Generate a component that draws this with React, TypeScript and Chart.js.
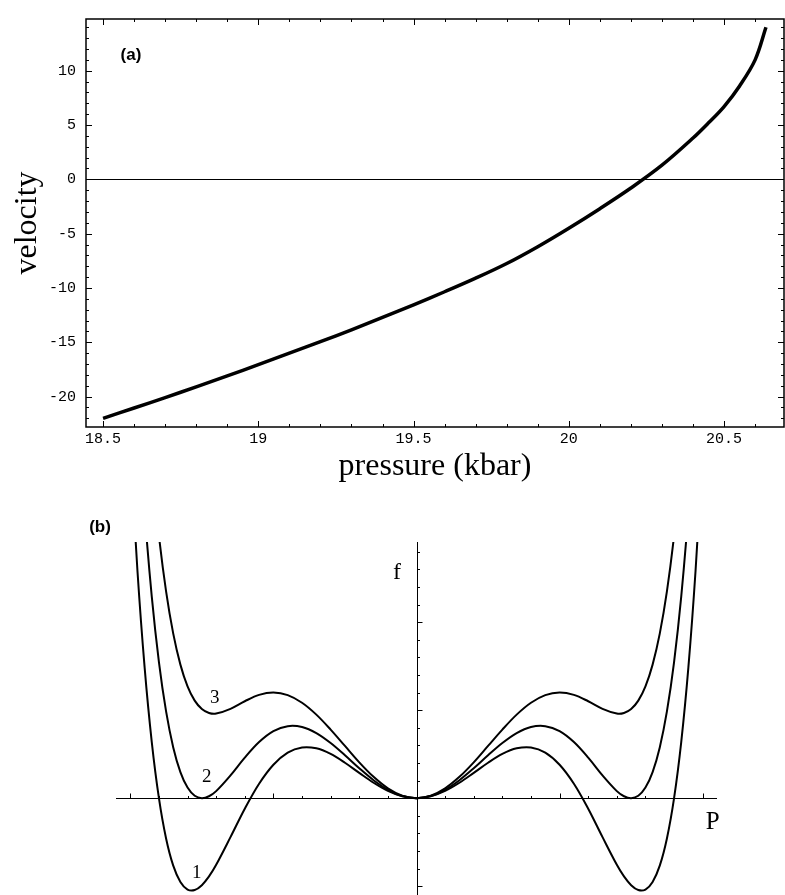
import React, { useEffect, useRef } from "react";
import { Chart, registerables } from "chart.js";

Chart.register(...registerables);

// ---------- Panel (a): velocity vs pressure ----------
const pressure = [
  18.5, 18.6, 18.7, 18.8, 18.9, 19.0, 19.1, 19.2, 19.3, 19.4, 19.5, 19.6,
  19.7, 19.8, 19.9, 20.0, 20.1, 20.2, 20.3, 20.4, 20.45, 20.5, 20.55, 20.6,
  20.635,
];
const velocity = [
  -22.0, -21.05, -20.1, -19.1, -18.1, -17.05, -16.0, -14.95, -13.85, -12.7,
  -11.55, -10.35, -9.1, -7.75, -6.2, -4.5, -2.7, -0.8, 1.3, 3.8, 5.2, 6.7,
  8.6, 11.0, 14.0,
];
const pressureTicks = [18.5, 19, 19.5, 20, 20.5];
const velocityTicks = [-20, -15, -10, -5, 0, 5, 10];

// ---------- Panel (b): free energy f(P), three curves ----------
const orderParam = [
  0, 0.1, 0.2, 0.3, 0.4, 0.5, 0.6, 0.7, 0.8, 0.9, 1.0, 1.1, 1.2, 1.3, 1.4,
  1.45, 1.5, 1.55, 1.6, 1.65, 1.7, 1.75, 1.8, 1.85, 1.9, 1.95, 2.0,
];
const energy1 = [
  0, 0.021, 0.082, 0.175, 0.287, 0.402, 0.502, 0.566, 0.576, 0.518, 0.38,
  0.164, -0.12, -0.443, -0.757, -0.889, -0.989, -1.044, -1.038, -0.952,
  -0.767, -0.458, 0, 0.637, 1.485, 2.58, 3.96,
];
const energy2 = [
  0, 0.024, 0.095, 0.204, 0.34, 0.487, 0.626, 0.739, 0.808, 0.818, 0.761,
  0.637, 0.46, 0.258, 0.08, 0.022, 0, 0.027, 0.12, 0.296, 0.576, 0.985, 1.546,
  2.29, 3.25, 4.46, 5.97,
];
const energy3 = [
  0, 0.029, 0.112, 0.242, 0.407, 0.593, 0.779, 0.949, 1.084, 1.171, 1.2,
  1.173, 1.101, 1.015, 0.961, 0.968, 1.013, 1.108, 1.27, 1.517, 1.869, 2.349,
  2.982, 3.8, 4.83, 6.11, 7.68,
];
const curveNames = ["1", "2", "3"];

const mirror = (vals: number[]) => [
  ...orderParam
    .slice(1)
    .map((p, i) => ({ x: -p, y: vals[i + 1] }))
    .reverse(),
  ...orderParam.map((p, i) => ({ x: p, y: vals[i] })),
];

const SERIF = "'Liberation Serif', 'Times New Roman', serif";
const MONO = "'Liberation Mono', 'Courier New', monospace";
const SANS = "'Liberation Sans', Arial, sans-serif";

const frameTicksPlugin = {
  id: "frameTicks",
  beforeDatasetsDraw(chart: any) {
    const { ctx, chartArea: a, scales } = chart;
    const y0 = Math.round(scales.y.getPixelForValue(0)) + 0.5;
    ctx.save();
    ctx.strokeStyle = "#000";
    ctx.lineWidth = 1;
    ctx.beginPath();
    ctx.moveTo(a.left, y0);
    ctx.lineTo(a.right, y0);
    ctx.stroke();
    ctx.restore();
  },
  afterDraw(chart: any) {
    const { ctx, chartArea: a, scales } = chart;
    const x = scales.x;
    const y = scales.y;
    ctx.save();
    ctx.strokeStyle = "#000";
    ctx.lineWidth = 1.5;
    ctx.strokeRect(a.left, a.top, a.right - a.left, a.bottom - a.top);
    ctx.lineWidth = 1;
    ctx.beginPath();
    for (let i = Math.ceil(x.min * 10); i <= Math.floor(x.max * 10); i++) {
      const px = Math.round(x.getPixelForValue(i / 10)) + 0.5;
      const len = i % 5 === 0 ? 6 : 3;
      ctx.moveTo(px, a.bottom);
      ctx.lineTo(px, a.bottom - len);
      ctx.moveTo(px, a.top);
      ctx.lineTo(px, a.top + len);
    }
    for (let i = Math.ceil(y.min); i <= Math.floor(y.max); i++) {
      const py = Math.round(y.getPixelForValue(i)) + 0.5;
      const len = i % 5 === 0 ? 6 : 3;
      ctx.moveTo(a.left, py);
      ctx.lineTo(a.left + len, py);
      ctx.moveTo(a.right, py);
      ctx.lineTo(a.right - len, py);
    }
    ctx.stroke();
    ctx.fillStyle = "#000";
    ctx.font = `bold 17px ${SANS}`;
    ctx.textAlign = "center";
    ctx.textBaseline = "middle";
    ctx.fillText("(a)", a.left + 45, a.top + 36);
    ctx.restore();
  },
};

const crossAxesPlugin = {
  id: "crossAxes",
  beforeDatasetsDraw(chart: any) {
    const { ctx, chartArea: a, scales } = chart;
    const x = scales.x;
    const y = scales.y;
    const ox = Math.round(x.getPixelForValue(0)) + 0.5;
    const oy = Math.round(y.getPixelForValue(0)) + 0.5;
    ctx.save();
    ctx.strokeStyle = "#000";
    ctx.lineWidth = 1;
    ctx.beginPath();
    ctx.moveTo(a.left, oy);
    ctx.lineTo(a.right, oy);
    ctx.moveTo(ox, a.top);
    ctx.lineTo(ox, a.bottom);
    for (let i = Math.ceil(x.min * 5); i <= Math.floor(x.max * 5); i++) {
      if (i === 0) continue;
      const px = Math.round(x.getPixelForValue(i / 5)) + 0.5;
      const len = i % 5 === 0 ? 5 : 2.5;
      ctx.moveTo(px, oy);
      ctx.lineTo(px, oy - len);
    }
    for (let i = Math.ceil(y.min * 5); i <= Math.floor(y.max * 5); i++) {
      if (i === 0) continue;
      const py = Math.round(y.getPixelForValue(i / 5)) + 0.5;
      const len = i % 5 === 0 ? 5 : 2.5;
      ctx.moveTo(ox, py);
      ctx.lineTo(ox + len, py);
    }
    ctx.stroke();
    ctx.restore();
  },
  afterDraw(chart: any) {
    const { ctx, chartArea: a, scales } = chart;
    const x = scales.x;
    const y = scales.y;
    ctx.save();
    ctx.fillStyle = "#000";
    ctx.textAlign = "center";
    ctx.textBaseline = "middle";
    ctx.font = `bold 17px ${SANS}`;
    ctx.fillText("(b)", a.left - 16, a.top - 15);
    ctx.font = `19px ${SERIF}`;
    const anchors = [
      [-1.535, -0.85],
      [-1.465, 0.24],
      [-1.41, 1.14],
    ];
    curveNames.forEach((n, i) => {
      ctx.fillText(n, x.getPixelForValue(anchors[i][0]), y.getPixelForValue(anchors[i][1]));
    });
    ctx.font = `24px ${SERIF}`;
    ctx.fillText("f", x.getPixelForValue(-0.136), y.getPixelForValue(2.56));
    ctx.font = `25px ${SERIF}`;
    ctx.fillText("P", x.getPixelForValue(2.07), y.getPixelForValue(-0.28));
    ctx.restore();
  },
};

export default function App() {
  const refA = useRef<HTMLCanvasElement | null>(null);
  const refB = useRef<HTMLCanvasElement | null>(null);

  useEffect(() => {
    const chartA = new Chart(refA.current as HTMLCanvasElement, {
      type: "line",
      data: {
        datasets: [
          {
            data: pressure.map((p, i) => ({ x: p, y: velocity[i] })),
            borderColor: "#000",
            borderWidth: 3.5,
            pointRadius: 0,
            tension: 0.35,
            fill: false,
          },
        ],
      },
      options: {
        animation: false,
        responsive: false,
        maintainAspectRatio: false,
        layout: { padding: { top: 11, right: 1, left: 0, bottom: 0 } },
        plugins: { legend: { display: false }, tooltip: { enabled: false } },
        scales: {
          x: {
            type: "linear",
            min: 18.445,
            max: 20.693,
            afterBuildTicks: (s: any) => {
              s.ticks = pressureTicks.map((v) => ({ value: v }));
            },
            afterFit: (s: any) => {
              s.height = 63;
            },
            grid: { display: false, drawTicks: false },
            border: { display: false },
            ticks: {
              color: "#000",
              font: { family: MONO, size: 15 },
              padding: 3,
              maxRotation: 0,
              autoSkip: false,
              callback: (v: any) => String(v),
            },
            title: {
              display: true,
              text: "pressure (kbar)",
              color: "#000",
              font: { family: SERIF, size: 32 },
              padding: { top: 0, bottom: 4 },
            },
          },
          y: {
            type: "linear",
            min: -22.8,
            max: 14.76,
            afterBuildTicks: (s: any) => {
              s.ticks = velocityTicks.map((v) => ({ value: v }));
            },
            afterFit: (s: any) => {
              s.width = 86;
            },
            grid: { display: false, drawTicks: false },
            border: { display: false },
            ticks: {
              color: "#000",
              font: { family: MONO, size: 15 },
              padding: 10,
              autoSkip: false,
              callback: (v: any) => String(v),
            },
            title: {
              display: true,
              text: "velocity",
              color: "#000",
              font: { family: SERIF, size: 32 },
              padding: { top: 8, bottom: 0 },
            },
          },
        },
      } as any,
      plugins: [frameTicksPlugin],
    });

    const sets = [energy1, energy2, energy3].map((vals) => ({
      data: mirror(vals),
      borderColor: "#000",
      borderWidth: 2,
      pointRadius: 0,
      tension: 0.35,
      fill: false,
    }));

    const chartB = new Chart(refB.current as HTMLCanvasElement, {
      type: "line",
      data: { datasets: sets },
      options: {
        animation: false,
        responsive: false,
        maintainAspectRatio: false,
        layout: { padding: { top: 52, right: 68, left: 116, bottom: 0 } },
        plugins: { legend: { display: false }, tooltip: { enabled: false } },
        scales: {
          x: { type: "linear", min: -2.1, max: 2.1, display: false },
          y: { type: "linear", min: -1.1, max: 2.91, display: false },
        },
      } as any,
      plugins: [crossAxesPlugin],
    });

    return () => {
      chartA.destroy();
      chartB.destroy();
    };
  }, []);

  return (
    <div
      style={{
        position: "absolute",
        left: 0,
        top: 0,
        width: 785,
        height: 895,
        background: "#fff",
        overflow: "hidden",
      }}
    >
      <canvas
        ref={refA}
        width={785}
        height={490}
        style={{ position: "absolute", left: 0, top: 0, display: "block" }}
      />
      <canvas
        ref={refB}
        width={785}
        height={405}
        style={{ position: "absolute", left: 0, top: 490, display: "block" }}
      />
    </div>
  );
}
